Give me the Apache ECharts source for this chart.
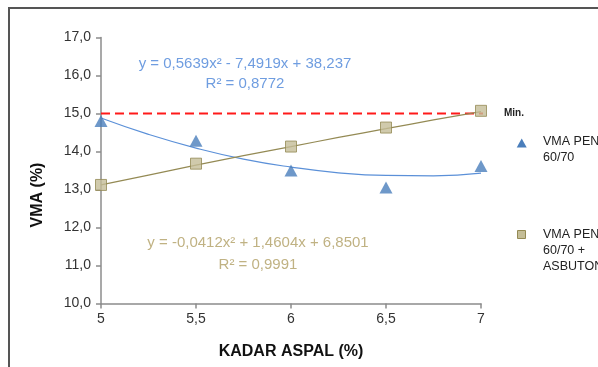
<!DOCTYPE html>
<html>
<head>
<meta charset="utf-8">
<script src="https://cdn.jsdelivr.net/npm/echarts@6/dist/echarts.min.js"></script>
<style>html,body{margin:0;padding:0;background:#fff}#c{width:598px;height:367px}</style>
</head>
<body>
<div id="c"></div>
<script>
// Data
const kadar = [5, 5.5, 6, 6.5, 7];
const vmaPen = [14.8, 14.28, 13.5, 13.05, 13.62];
const vmaAsbuton = [13.12, 13.68, 14.13, 14.63, 15.07];
// Trendline curves
const trendX = [5, 5.25, 5.5, 5.75, 6, 6.25, 6.5, 6.75, 7];
const trendPen = [14.88, 14.45, 14.09, 13.80, 13.59, 13.44, 13.37, 13.36, 13.43];
const trendAsbuton = [13.12, 13.38, 13.64, 13.89, 14.13, 14.37, 14.60, 14.83, 15.05];
const minX = [5, 7.16];
const minY = [15, 15];
const yTicks = [10, 11, 12, 13, 14, 15, 16, 17];
const xTicks = [5, 5.5, 6, 6.5, 7];
const eqPen = ['y = 0,5639x² - 7,4919x + 38,237', 'R² = 0,8772'];
const eqAsbuton = ['y = -0,0412x² + 1,4604x + 6,8501', 'R² = 0,9991'];
const legendPen = 'VMA PEN\n60/70';
const legendAsbuton = 'VMA PEN\n60/70 +\nASBUTON';

const zip = (a, b) => a.map((v, i) => [v, b[i]]);
const F = 'Liberation Sans, Arial, sans-serif';
const fmt = v => String(v).replace('.', ',');

const chart = echarts.init(document.getElementById('c'));
chart.setOption({
  animation: false,
  grid: { left: 101, right: 117, top: 37.5, bottom: 63.5 },
  xAxis: {
    type: 'value', min: 5, max: 7, interval: 0.5,
    name: 'KADAR ASPAL (%)', nameLocation: 'middle', nameGap: 40,
    nameTextStyle: { fontFamily: F, fontSize: 16, fontWeight: 'bold', color: '#111' },
    axisLine: { lineStyle: { color: '#8c8c8c', width: 1.5 } },
    axisTick: { show: true, length: 5, lineStyle: { color: '#8c8c8c', width: 1.5 } },
    axisLabel: { fontFamily: F, fontSize: 14, color: '#333', margin: 9,
      formatter: v => xTicks.includes(v) ? fmt(v) : '' },
    splitLine: { show: false }
  },
  yAxis: {
    type: 'value', min: 10, max: 17, interval: 1,
    axisLine: { show: true, lineStyle: { color: '#8c8c8c', width: 1.5 } },
    axisTick: { show: true, length: 5, lineStyle: { color: '#8c8c8c', width: 1.5 } },
    axisLabel: { fontFamily: F, fontSize: 14, color: '#333', margin: 10,
      formatter: v => yTicks.includes(v) ? v.toFixed(1).replace('.', ',') : '' },
    splitLine: { show: false }
  },
  series: [
    { type: 'line', data: zip(minX, minY), symbol: 'none', clip: false, silent: true,
      lineStyle: { color: '#ff1a1a', width: 1.8, type: [9, 5] },
      endLabel: { show: true, formatter: 'Min.', distance: 21, fontFamily: F, fontSize: 10, fontWeight: 'bold', color: '#222' } },
    { type: 'line', data: zip(trendX, trendPen), smooth: true, symbol: 'none',
      lineStyle: { color: '#5b90d8', width: 1.2 } },
    { type: 'line', data: zip(trendX, trendAsbuton), smooth: true, symbol: 'none',
      lineStyle: { color: '#948a54', width: 1.2 } },
    { type: 'scatter', name: 'VMA PEN 60/70', data: zip(kadar, vmaPen), symbol: 'triangle', symbolSize: [13, 12],
      itemStyle: { color: '#4a7ebb' }, z: 5 },
    { type: 'scatter', name: 'VMA PEN 60/70 + ASBUTON', data: zip(kadar, vmaAsbuton), symbol: 'rect', symbolSize: 11,
      itemStyle: { color: '#c4bd97', borderColor: '#948a54', borderWidth: 1 }, z: 5 }
  ],
  graphic: [
    { type: 'line', shape: { x1: 9, y1: 8, x2: 598, y2: 8 }, style: { stroke: '#555', lineWidth: 2 } },
    { type: 'line', shape: { x1: 9, y1: 7, x2: 9, y2: 367 }, style: { stroke: '#555', lineWidth: 2 } },
    { type: 'text', x: 245, y: 64, style: { text: eqPen[0], fill: '#6f9de0', font: '15px ' + F, textAlign: 'center', textVerticalAlign: 'middle' } },
    { type: 'text', x: 245, y: 84, style: { text: eqPen[1], fill: '#6f9de0', font: '15px ' + F, textAlign: 'center', textVerticalAlign: 'middle' } },
    { type: 'text', x: 258, y: 243, style: { text: eqAsbuton[0], fill: '#c0b283', font: '15px ' + F, textAlign: 'center', textVerticalAlign: 'middle' } },
    { type: 'text', x: 258, y: 265, style: { text: eqAsbuton[1], fill: '#c0b283', font: '15px ' + F, textAlign: 'center', textVerticalAlign: 'middle' } },
    { type: 'text', x: 38, y: 195, rotation: Math.PI / 2, style: { text: 'VMA (%)', fill: '#111', font: 'bold 16px ' + F, textAlign: 'center', textVerticalAlign: 'middle' } },
    { type: 'polygon', shape: { points: [[521.7, 138.5], [516.7, 147.5], [526.7, 147.5]] }, style: { fill: '#4a7ebb' } },
    { type: 'text', x: 543, y: 134, style: { text: legendPen, fill: '#222', font: '12.5px ' + F, lineHeight: 16 } },
    { type: 'rect', shape: { x: 517.5, y: 230.5, width: 8, height: 8 }, style: { fill: '#c4bd97', stroke: '#948a54', lineWidth: 1 } },
    { type: 'text', x: 543, y: 227, style: { text: legendAsbuton, fill: '#222', font: '12.5px ' + F, lineHeight: 16 } }
  ]
});
</script>
</body>
</html>
